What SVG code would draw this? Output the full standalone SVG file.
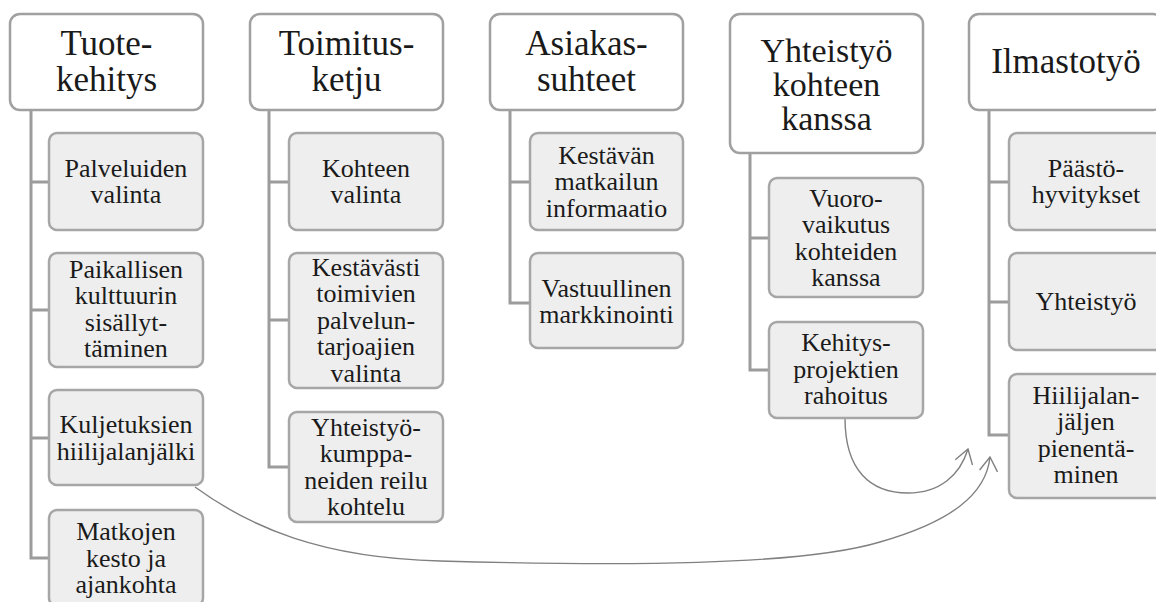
<svg xmlns="http://www.w3.org/2000/svg" width="1156" height="602" viewBox="0 0 1156 602">
<defs>
<style>
.top{fill:#ffffff;stroke:#a0a0a0;stroke-width:2.5}
.sub{fill:#eeeeee;stroke:#a6a6a6;stroke-width:2.5}
.tt{font-family:"Liberation Serif","Times New Roman",serif;font-size:35px;fill:#1a1a1a;text-anchor:middle}
.tt3{font-family:"Liberation Serif","Times New Roman",serif;font-size:34px;fill:#1a1a1a;text-anchor:middle}
.st{font-family:"Liberation Serif","Times New Roman",serif;font-size:26px;fill:#1a1a1a;text-anchor:middle}
.tree{fill:none;stroke:#9c9c9c;stroke-width:3}
.curve{fill:none;stroke:#808080;stroke-width:1.4}
</style>
<marker id="arr" markerUnits="userSpaceOnUse" viewBox="0 0 16 20" markerWidth="16" markerHeight="20" refX="15" refY="10" orient="auto">
<path d="M1,1 L15,10 L1,19" fill="none" stroke="#808080" stroke-width="1.4"/>
</marker>
</defs>
<rect width="1156" height="602" fill="#ffffff"/>

<g id="connectors">
<path class="tree" d="M31,110 V558 H49 M31,182 H49 M31,310 H49 M31,438 H49"/>
<path class="tree" d="M269,110 V467 H289 M269,182 H289 M269,320 H289"/>
<path class="tree" d="M510,110 V303 H530 M510,182 H530"/>
<path class="tree" d="M750,153 V370 H769 M750,238 H769"/>
<path class="tree" d="M989,110 V435 H1009 M989,182 H1009 M989,302 H1009"/>
<path class="curve" marker-end="url(#arr)" d="M195,487 C250,527 320,558 440,561 C620,566 800,566 880,542 C950,522 986,495 990,457"/>
<path class="curve" marker-end="url(#arr)" d="M845,418 C845,470 870,493 908,493 C940,493 960,475 968,449"/>
</g>

<g id="n-tuotekehitys">
<rect class="top" x="10" y="14" width="193" height="96" rx="10"/>
<text class="tt"><tspan x="106.5" y="55">Tuote-</tspan><tspan x="106.5" y="90.5">kehitys</tspan></text>
</g>
<g id="n-palveluiden">
<rect class="sub" x="49" y="133" width="154" height="97" rx="8"/>
<text class="st"><tspan x="126" y="176.5">Palveluiden</tspan><tspan x="126" y="203">valinta</tspan></text>
</g>
<g id="n-paikallisen">
<rect class="sub" x="49" y="253" width="154" height="114" rx="8"/>
<text class="st"><tspan x="126" y="277.5">Paikallisen</tspan><tspan x="126" y="304">kulttuurin</tspan><tspan x="126" y="330.5">sisällyt-</tspan><tspan x="126" y="357">täminen</tspan></text>
</g>
<g id="n-kuljetuksien">
<rect class="sub" x="49" y="390" width="154" height="95" rx="8"/>
<text class="st"><tspan x="126" y="433">Kuljetuksien</tspan><tspan x="126" y="459.5">hiilijalanjälki</tspan></text>
</g>
<g id="n-matkojen">
<rect class="sub" x="49" y="510" width="154" height="96" rx="8"/>
<text class="st"><tspan x="126" y="540">Matkojen</tspan><tspan x="126" y="566.5">kesto ja</tspan><tspan x="126" y="593">ajankohta</tspan></text>
</g>

<g id="n-toimitusketju">
<rect class="top" x="250" y="14" width="193" height="96" rx="10"/>
<text class="tt"><tspan x="346.5" y="55">Toimitus-</tspan><tspan x="346.5" y="90.5">ketju</tspan></text>
</g>
<g id="n-kohteen-valinta">
<rect class="sub" x="289" y="133" width="154" height="97" rx="8"/>
<text class="st"><tspan x="366" y="176.5">Kohteen</tspan><tspan x="366" y="203">valinta</tspan></text>
</g>
<g id="n-kestavasti">
<rect class="sub" x="289" y="253" width="154" height="135" rx="8"/>
<text class="st"><tspan x="366" y="275.5">Kestävästi</tspan><tspan x="366" y="302">toimivien</tspan><tspan x="366" y="328.5">palvelun-</tspan><tspan x="366" y="355">tarjoajien</tspan><tspan x="366" y="381.5">valinta</tspan></text>
</g>
<g id="n-yhteistyokumppaneiden">
<rect class="sub" x="289" y="412" width="154" height="110" rx="8"/>
<text class="st"><tspan x="366" y="435.5">Yhteistyö-</tspan><tspan x="366" y="462">kumppa-</tspan><tspan x="366" y="488.5">neiden reilu</tspan><tspan x="366" y="515">kohtelu</tspan></text>
</g>

<g id="n-asiakassuhteet">
<rect class="top" x="490" y="14" width="193" height="96" rx="10"/>
<text class="tt"><tspan x="586.5" y="55">Asiakas-</tspan><tspan x="586.5" y="90.5">suhteet</tspan></text>
</g>
<g id="n-kestavan">
<rect class="sub" x="530" y="133" width="153" height="97" rx="8"/>
<text class="st"><tspan x="606.5" y="163.5">Kestävän</tspan><tspan x="606.5" y="190">matkailun</tspan><tspan x="606.5" y="216.5">informaatio</tspan></text>
</g>
<g id="n-vastuullinen">
<rect class="sub" x="530" y="253" width="153" height="95" rx="8"/>
<text class="st"><tspan x="606.5" y="296.5">Vastuullinen</tspan><tspan x="606.5" y="323">markkinointi</tspan></text>
</g>

<g id="n-yhteistyo-kohteen">
<rect class="top" x="730" y="14" width="193" height="139" rx="10"/>
<text class="tt3"><tspan x="826.5" y="61.5">Yhteistyö</tspan><tspan x="826.5" y="95.5">kohteen</tspan><tspan x="826.5" y="129.5">kanssa</tspan></text>
</g>
<g id="n-vuorovaikutus">
<rect class="sub" x="769" y="178" width="154" height="119" rx="8"/>
<text class="st"><tspan x="846" y="206.5">Vuoro-</tspan><tspan x="846" y="233">vaikutus</tspan><tspan x="846" y="259.5">kohteiden</tspan><tspan x="846" y="286">kanssa</tspan></text>
</g>
<g id="n-kehitysprojektien">
<rect class="sub" x="769" y="322" width="154" height="96" rx="8"/>
<text class="st"><tspan x="846" y="351">Kehitys-</tspan><tspan x="846" y="377.5">projektien</tspan><tspan x="846" y="404">rahoitus</tspan></text>
</g>

<g id="n-ilmastotyo">
<rect class="top" x="969" y="14" width="194" height="96" rx="10"/>
<text class="tt" x="1066" y="73">Ilmastotyö</text>
</g>
<g id="n-paastohyvitykset">
<rect class="sub" x="1009" y="133" width="154" height="97" rx="8"/>
<text class="st"><tspan x="1086" y="176.5">Päästö-</tspan><tspan x="1086" y="203">hyvitykset</tspan></text>
</g>
<g id="n-yhteistyo">
<rect class="sub" x="1009" y="253" width="154" height="97" rx="8"/>
<text class="st" x="1086" y="310">Yhteistyö</text>
</g>
<g id="n-hiilijalanjaljen">
<rect class="sub" x="1009" y="374" width="154" height="124" rx="8"/>
<text class="st"><tspan x="1086" y="403.5">Hiilijalan-</tspan><tspan x="1086" y="430">jäljen</tspan><tspan x="1086" y="456.5">pienentä-</tspan><tspan x="1086" y="483">minen</tspan></text>
</g>
</svg>
